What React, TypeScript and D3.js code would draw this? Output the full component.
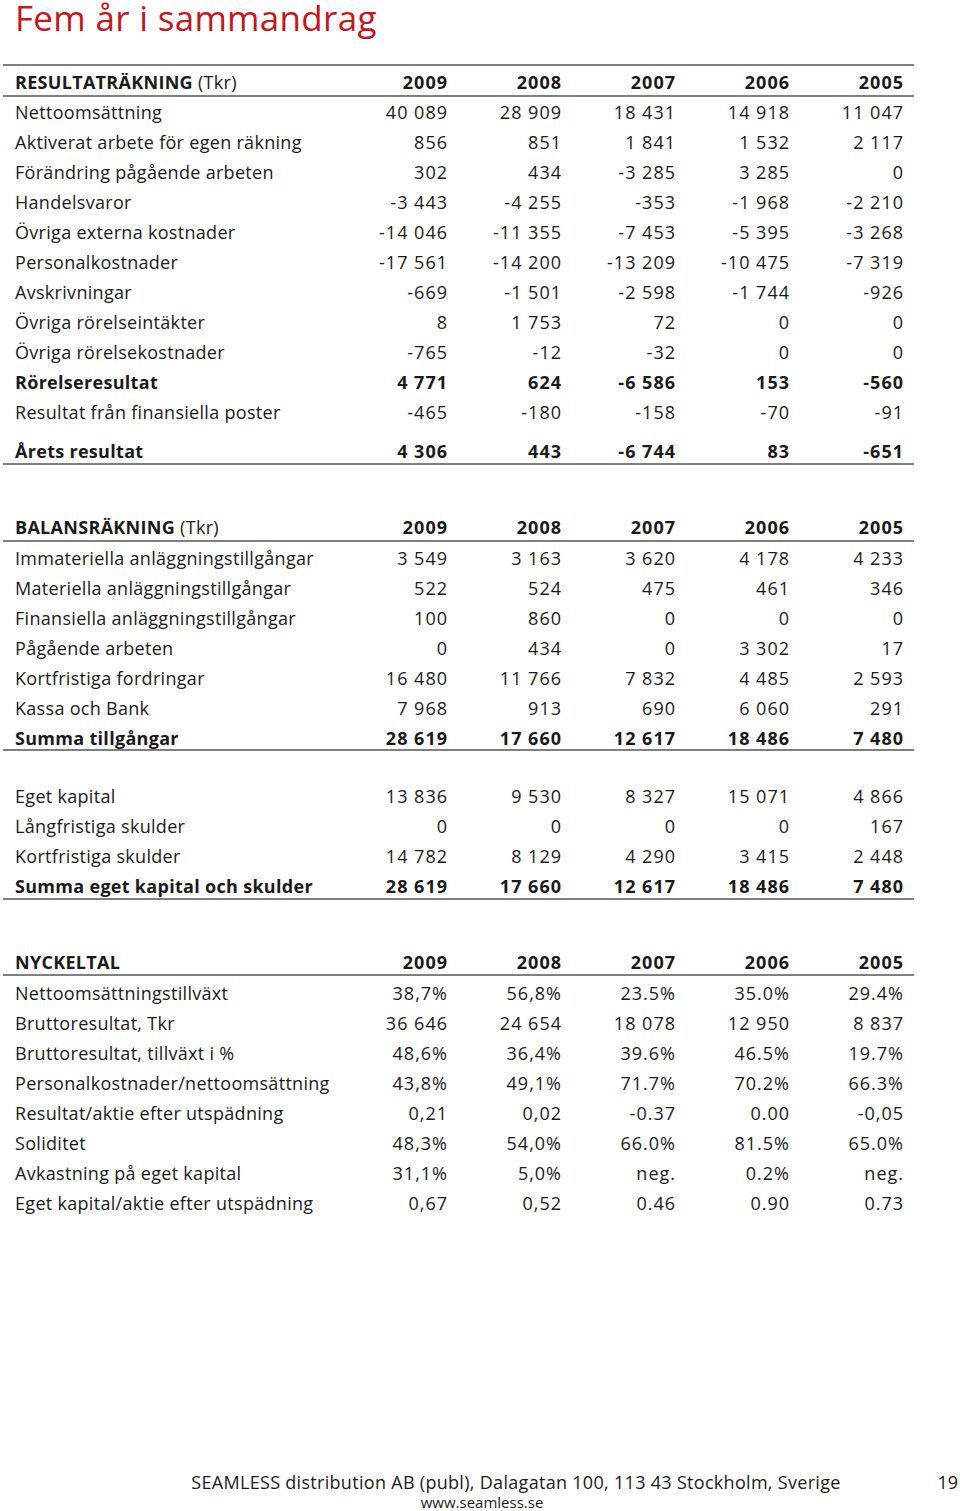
import React from 'react'
import * as d3 from 'd3'

// Kolumner (år)
const years = ['2009', '2008', '2007', '2006', '2005']

// Resultaträkning
const resultLabels = [
	'Nettoomsättning',
	'Aktiverat arbete för egen räkning',
	'Förändring pågående arbeten',
	'Handelsvaror',
	'Övriga externa kostnader',
	'Personalkostnader',
	'Avskrivningar',
	'Övriga rörelseintäkter',
	'Övriga rörelsekostnader',
	'Rörelseresultat',
	'Resultat från finansiella poster',
]
const resultValues = [
	[40089, 28909, 18431, 14918, 11047],
	[856, 851, 1841, 1532, 2117],
	[302, 434, -3285, 3285, 0],
	[-3443, -4255, -353, -1968, -2210],
	[-14046, -11355, -7453, -5395, -3268],
	[-17561, -14200, -13209, -10475, -7319],
	[-669, -1501, -2598, -1744, -926],
	[8, 1753, 72, 0, 0],
	[-765, -12, -32, 0, 0],
	[4771, 624, -6586, 153, -560],
	[-465, -180, -158, -70, -91],
]
const resultBold = [9]
const aretsLabel = 'Årets resultat'
const aretsValues = [4306, 443, -6744, 83, -651]

// Balansräkning
const assetLabels = [
	'Immateriella anläggningstillgångar',
	'Materiella anläggningstillgångar',
	'Finansiella anläggningstillgångar',
	'Pågående arbeten',
	'Kortfristiga fordringar',
	'Kassa och Bank',
	'Summa tillgångar',
]
const assetValues = [
	[3549, 3163, 3620, 4178, 4233],
	[522, 524, 475, 461, 346],
	[100, 860, 0, 0, 0],
	[0, 434, 0, 3302, 17],
	[16480, 11766, 7832, 4485, 2593],
	[7968, 913, 690, 6060, 291],
	[28619, 17660, 12617, 18486, 7480],
]
const equityLabels = ['Eget kapital', 'Långfristiga skulder', 'Kortfristiga skulder', 'Summa eget kapital och skulder']
const equityValues = [
	[13836, 9530, 8327, 15071, 4866],
	[0, 0, 0, 0, 167],
	[14782, 8129, 4290, 3415, 2448],
	[28619, 17660, 12617, 18486, 7480],
]

// Nyckeltal
const keyLabels = [
	'Nettoomsättningstillväxt',
	'Bruttoresultat, Tkr',
	'Bruttoresultat, tillväxt i %',
	'Personalkostnader/nettoomsättning',
	'Resultat/aktie efter utspädning',
	'Soliditet',
	'Avkastning på eget kapital',
	'Eget kapital/aktie efter utspädning',
]
const keyValues = [
	['38,7%', '56,8%', '23.5%', '35.0%', '29.4%'],
	['36 646', '24 654', '18 078', '12 950', '8 837'],
	['48,6%', '36,4%', '39.6%', '46.5%', '19.7%'],
	['43,8%', '49,1%', '71.7%', '70.2%', '66.3%'],
	['0,21', '0,02', '-0.37', '0.00', '-0,05'],
	['48,3%', '54,0%', '66.0%', '81.5%', '65.0%'],
	['31,1%', '5,0%', 'neg.', '0.2%', 'neg.'],
	['0,67', '0,52', '0.46', '0.90', '0.73'],
]

const width = 960
const height = 1511
const FONT = "'Open Sans', 'DejaVu Sans', sans-serif"
const textColor = '#1a1a1a'
const lineColor = '#555'
const red = '#c4161c'

const sv = d3.formatLocale({ decimal: ',', thousands: '\u2009', grouping: [3], currency: ['', ' kr'] })
const fmtNum = (v: number) => sv.format(',d')(v).replace('\u2009', ' ').replace('−', '-')

const x = d3.scalePoint<string>().domain(years).range([447, 903])
const labelX = 15
const lineX0 = 3
const lineX1 = 914
const rowStep = 30

const rowY = (start: number) => d3.scaleLinear().domain([0, 1]).range([start, start + rowStep])

const Row = ({ y, label, values, bold = false, sub }: { y: number; label: string; values: string[]; bold?: boolean; sub?: string }) => (
	<g fontWeight={bold ? 700 : 400}>
		<text x={labelX} y={y} dy="0.35em" letterSpacing={0.3}>
			{label}
			{sub && <tspan fontWeight={400}>{sub}</tspan>}
		</text>
		{values.map((v, i) => (
			<text key={i} x={x(years[i]) + 1} y={y} dy="0.35em" textAnchor="end" letterSpacing={1}>
				{v}
			</text>
		))}
	</g>
)

const HLine = ({ y }: { y: number }) => <line x1={lineX0} x2={lineX1} y1={y} y2={y} stroke={lineColor} strokeWidth={1.6} />

export default function App() {
	const r1 = rowY(113)
	const b1 = rowY(559)
	const b2 = rowY(797)
	const k1 = rowY(994)

	return (
		<svg width={width} height={height} style={{ position: 'absolute', left: 0, top: 0 }} fontFamily={FONT} fontSize={18} fill={textColor}>
			<rect width={width} height={height} fill="#fff" />
			<text x={15} y={31} fontSize={35} fill={red} letterSpacing={0.3}>
				Fem år i sammandrag
			</text>

			{/* Resultaträkning */}
			<HLine y={65} />
			<Row y={83} label="RESULTATRÄKNING" sub=" (Tkr)" values={years} bold />
			<HLine y={96} />
			{resultLabels.map((l, i) => (
				<Row key={l} y={r1(i)} label={l} values={resultValues[i].map(fmtNum)} bold={resultBold.includes(i)} />
			))}
			<Row y={452} label={aretsLabel} values={aretsValues.map(fmtNum)} bold />
			<HLine y={464} />

			{/* Balansräkning */}
			<Row y={528} label="BALANSRÄKNING" sub=" (Tkr)" values={years} bold />
			<HLine y={541} />
			{assetLabels.map((l, i) => (
				<Row key={l} y={b1(i)} label={l} values={assetValues[i].map(fmtNum)} bold={i === assetLabels.length - 1} />
			))}
			<HLine y={750} />
			{equityLabels.map((l, i) => (
				<Row key={l} y={b2(i)} label={l} values={equityValues[i].map(fmtNum)} bold={i === equityLabels.length - 1} />
			))}
			<HLine y={899} />

			{/* Nyckeltal */}
			<Row y={963} label="NYCKELTAL" values={years} bold />
			<HLine y={975} />
			{keyLabels.map((l, i) => (
				<Row key={l} y={k1(i)} label={l} values={keyValues[i]} />
			))}

			{/* Sidfot */}
			<text x={516} y={1483} dy="0.35em" textAnchor="middle" fontSize={18} letterSpacing={0.3}>
				SEAMLESS distribution AB (publ), Dalagatan 100, 113 43 Stockholm, Sverige
			</text>
			<text x={482} y={1503} dy="0.35em" textAnchor="middle" fontSize={15}>
				www.seamless.se
			</text>
			<text x={958} y={1483} dy="0.35em" textAnchor="end" fontSize={18}>
				19
			</text>
		</svg>
	)
}
